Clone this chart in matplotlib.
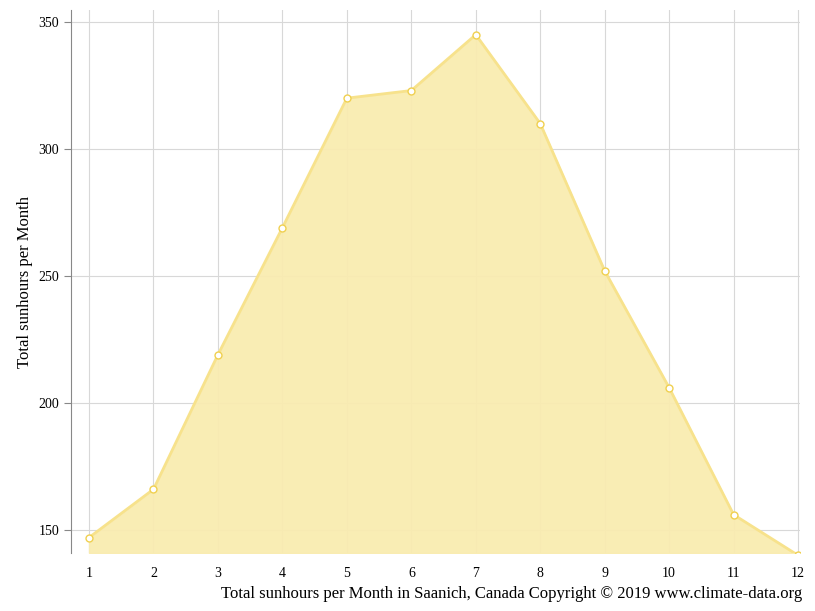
import matplotlib
matplotlib.use("Agg")
import matplotlib.pyplot as plt

months = [1, 2, 3, 4, 5, 6, 7, 8, 9, 10, 11, 12]
sunhours = [147, 166, 219, 269, 320, 323, 345, 310, 252, 206, 156, 140]
yticks = [150, 200, 250, 300, 350]

plt.rcParams['font.family'] = ['Liberation Serif', 'DejaVu Serif']

fig = plt.figure(figsize=(8.15, 6.11), dpi=100)
ax = fig.add_axes([0.0871, 0.0949, 0.8945, 0.8887])

ax.fill_between(months, sunhours, 140.9, color='#f9ecb0', alpha=0.95, zorder=2)
ax.plot(months, sunhours, color='#f7e28c', lw=2, zorder=3)
ax.plot(months, sunhours, 'o', ms=5, mfc='white', mec='#f0d050', mew=1, zorder=4)

ax.set_xlim(0.72, 12.03)
ax.set_ylim(140.9, 354.7)
ax.set_xticks(months)
ax.set_yticks(yticks)
ax.grid(True, color='#d8d8d8', lw=0.8, zorder=0)
ax.set_axisbelow(True)
for s in ['top', 'right', 'bottom']:
    ax.spines[s].set_visible(False)
ax.spines['left'].set_color('#888888')
ax.tick_params(axis='x', length=0, labelsize=10, pad=10)
ax.tick_params(axis='y', length=5, color='#888888', labelsize=10)

ax.set_ylabel("Total sunhours per Month", fontsize=12)
fig.text(0.984, 0.015, "Total sunhours per Month in Saanich, Canada Copyright © 2019 www.climate-data.org",
         ha='right', va='bottom', fontsize=12)

fig.savefig("out.png", dpi=100)
